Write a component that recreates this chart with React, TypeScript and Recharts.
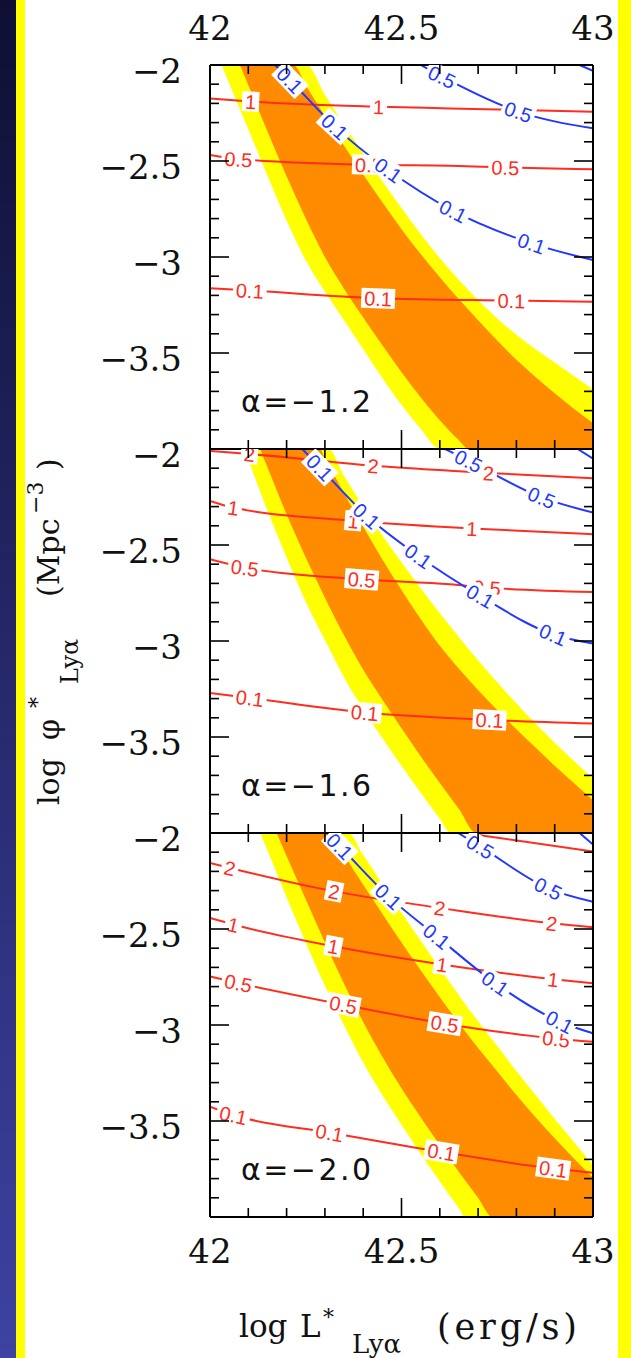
import React from 'react';
import { Area, ComposedChart, Line, Scatter, XAxis, YAxis } from 'recharts';

type Pt = [number, number];
type Band = [number, number, number];

const xTicks = [42, 42.1, 42.2, 42.3, 42.4, 42.5, 42.6, 42.7, 42.8, 42.9, 43];
const xMajor = [42, 42.5, 43];
const xTickLabels = ['42', '42.5', '43'];
const yTicks = [-4, -3.9, -3.8, -3.7, -3.6, -3.5, -3.4, -3.3, -3.2, -3.1, -3, -2.9, -2.8, -2.7, -2.6, -2.5, -2.4, -2.3, -2.2, -2.1, -2];
const yMajor = [-2, -2.5, -3, -3.5];
const yTickLabels = ['−2', '−2.5', '−3', '−3.5'];
const alphas = ['−1.2', '−1.6', '−2.0'];

// bands: [log L, lower edge, upper edge]
const a12Yellow: Band[] = [
  [42.03, -2.0, -2.0], [42.05, -2.095, -2.0], [42.075, -2.215, -2.0], [42.1, -2.335, -2.0], [42.15, -2.575, -2.0],
  [42.2, -2.81, -2.0], [42.252, -3.025, -2.0], [42.3, -3.18, -2.155], [42.35, -3.33, -2.31], [42.4, -3.48, -2.46],
  [42.45, -3.63, -2.605], [42.5, -3.77, -2.745], [42.55, -3.895, -2.88], [42.6, -4.0, -3.005], [42.65, -4.0, -3.12],
  [42.7, -4.0, -3.225], [42.75, -4.0, -3.32], [42.8, -4.0, -3.405], [42.85, -4.0, -3.48], [42.9, -4.0, -3.55],
  [42.95, -4.0, -3.62], [43.0, -4.0, -3.69],
];
const a12Orange: Band[] = [
  [42.078, -2.0, -2.0], [42.1, -2.105, -2.0], [42.15, -2.345, -2.0], [42.2, -2.58, -2.0], [42.218, -2.66, -2.0],
  [42.25, -2.8, -2.105], [42.3, -3.0, -2.265], [42.35, -3.165, -2.42], [42.4, -3.315, -2.57], [42.45, -3.46, -2.715],
  [42.5, -3.6, -2.855], [42.55, -3.73, -2.985], [42.6, -3.85, -3.105], [42.65, -3.955, -3.22], [42.675, -4.0, -3.275],
  [42.7, -4.0, -3.33], [42.75, -4.0, -3.435], [42.8, -4.0, -3.535], [42.85, -4.0, -3.625], [42.9, -4.0, -3.71],
  [42.95, -4.0, -3.79], [43.0, -4.0, -3.865],
];
const a16Yellow: Band[] = [
  [42.09, -2.0, -2.0], [42.1, -2.055, -2.0], [42.15, -2.32, -2.0], [42.2, -2.565, -2.0], [42.25, -2.795, -2.0],
  [42.309, -3.03, -2.0], [42.35, -3.19, -2.14], [42.4, -3.355, -2.3], [42.45, -3.505, -2.45], [42.5, -3.65, -2.59],
  [42.55, -3.79, -2.725], [42.6, -3.925, -2.855], [42.628, -4.0, -2.925], [42.65, -4.0, -2.98], [42.7, -4.0, -3.1],
  [42.75, -4.0, -3.215], [42.8, -4.0, -3.325], [42.85, -4.0, -3.43], [42.9, -4.0, -3.53], [42.95, -4.0, -3.625],
  [43.0, -4.0, -3.715],
];
const a16Orange: Band[] = [
  [42.131, -2.0, -2.0], [42.15, -2.095, -2.0], [42.2, -2.34, -2.0], [42.25, -2.565, -2.0], [42.287, -2.72, -2.0],
  [42.3, -2.775, -2.048], [42.35, -2.97, -2.23], [42.4, -3.15, -2.405], [42.45, -3.305, -2.575], [42.5, -3.455, -2.735],
  [42.55, -3.6, -2.885], [42.6, -3.74, -3.025], [42.65, -3.875, -3.145], [42.695, -4.0, -3.245], [42.75, -4.0, -3.36],
  [42.8, -4.0, -3.46], [42.85, -4.0, -3.555], [42.9, -4.0, -3.65], [42.95, -4.0, -3.74], [43.0, -4.0, -3.83],
];
const a20Yellow: Band[] = [
  [42.131, -2.0, -2.0], [42.15, -2.09, -2.0], [42.2, -2.335, -2.0], [42.25, -2.57, -2.0], [42.3, -2.795, -2.0],
  [42.361, -3.045, -2.0], [42.4, -3.195, -2.115], [42.45, -3.365, -2.265], [42.5, -3.52, -2.415], [42.55, -3.67, -2.56],
  [42.6, -3.815, -2.705], [42.65, -3.955, -2.845], [42.666, -4.0, -2.89], [42.7, -4.0, -2.98], [42.75, -4.0, -3.11],
  [42.8, -4.0, -3.24], [42.85, -4.0, -3.365], [42.9, -4.0, -3.49], [42.95, -4.0, -3.61], [43.0, -4.0, -3.73],
];
const a20Orange: Band[] = [
  [42.174, -2.0, -2.0], [42.2, -2.12, -2.0], [42.25, -2.345, -2.0], [42.3, -2.57, -2.0], [42.313, -2.627, -2.0],
  [42.35, -2.785, -2.115], [42.4, -2.985, -2.27], [42.45, -3.165, -2.42], [42.5, -3.33, -2.57], [42.55, -3.48, -2.715],
  [42.6, -3.625, -2.855], [42.65, -3.765, -2.99], [42.7, -3.9, -3.12], [42.737, -4.0, -3.21], [42.8, -4.0, -3.365],
  [42.85, -4.0, -3.48], [42.9, -4.0, -3.59], [42.95, -4.0, -3.695], [43.0, -4.0, -3.795],
];

// contours: [log L, log phi]
const a12Red1: Pt[] = [[42.0, -2.174], [42.106, -2.19], [42.44, -2.217], [42.627, -2.226], [43.0, -2.243]];
const a12Red05: Pt[] = [[42.0, -2.469], [42.074, -2.49], [42.415, -2.52], [42.627, -2.525], [42.771, -2.533], [43.0, -2.543]];
const a12Red01: Pt[] = [[42.0, -3.163], [42.104, -3.175], [42.439, -3.215], [42.787, -3.227], [43.0, -3.233]];
const a12Blue01: Pt[] = [[42.17, -2.0], [42.209, -2.078], [42.326, -2.321], [42.466, -2.547], [42.635, -2.76], [42.84, -2.929], [43.0, -3.016]];
const a12Blue05: Pt[] = [[42.55, -2.0], [42.606, -2.061], [42.805, -2.243], [43.0, -2.33]];
const a12Blue1: Pt[] = [[42.965, -2.0], [43.0, -2.03]];

const a16Red2: Pt[] = [[42.0, -2.01], [42.103, -2.026], [42.426, -2.087], [42.627, -2.113], [42.727, -2.125], [43.0, -2.153]];
const a16Red1: Pt[] = [[42.0, -2.27], [42.061, -2.305], [42.374, -2.374], [42.627, -2.408], [42.684, -2.414], [43.0, -2.444]];
const a16Red05: Pt[] = [[42.0, -2.574], [42.091, -2.618], [42.396, -2.679], [42.627, -2.705], [42.723, -2.722], [43.0, -2.745]];
const a16Red01: Pt[] = [[42.0, -3.271], [42.104, -3.297], [42.404, -3.373], [42.73, -3.411], [43.0, -3.43]];
const a16Blue01: Pt[] = [[42.241, -2.0], [42.287, -2.096], [42.409, -2.348], [42.544, -2.557], [42.706, -2.766], [42.896, -2.966], [43.0, -3.013]];
const a16Blue05: Pt[] = [[42.614, -2.0], [42.675, -2.061], [42.866, -2.252], [43.0, -2.331]];
const a16Blue1: Pt[] = [[42.96, -2.0], [43.0, -2.05]];

const a20Red5: Pt[] = [[42.7, -2.01], [43.0, -2.097]];
const a20Red2: Pt[] = [[42.0, -2.156], [42.052, -2.182], [42.324, -2.304], [42.6, -2.39], [42.892, -2.47], [43.0, -2.491]];
const a20Red1: Pt[] = [[42.0, -2.443], [42.061, -2.477], [42.322, -2.59], [42.606, -2.685], [42.896, -2.762], [43.0, -2.783]];
const a20Red05: Pt[] = [[42.0, -2.747], [42.074, -2.781], [42.348, -2.894], [42.613, -2.993], [42.904, -3.071], [43.0, -3.087]];
const a20Red01: Pt[] = [[42.0, -3.425], [42.061, -3.469], [42.312, -3.56], [42.604, -3.661], [42.896, -3.748], [43.0, -3.77]];
const a20Blue01: Pt[] = [[42.305, -2.0], [42.339, -2.069], [42.466, -2.33], [42.592, -2.538], [42.745, -2.783], [42.913, -2.983], [43.0, -3.043]];
const a20Blue05: Pt[] = [[42.648, -2.0], [42.706, -2.071], [42.883, -2.288], [43.0, -2.358]];
const a20Blue1: Pt[] = [[42.965, -2.0], [43.0, -2.06]];

type Contour = { level: string; pts: Pt[]; at: number[] };

const panels: { yellow: Band[]; orange: Band[]; red: Contour[]; blue: Contour[] }[] = [
  {
    yellow: a12Yellow,
    orange: a12Orange,
    red: [
      { level: '1', pts: a12Red1, at: [42.106, 42.44] },
      { level: '0.5', pts: a12Red05, at: [42.074, 42.415, 42.771] },
      { level: '0.1', pts: a12Red01, at: [42.104, 42.439, 42.787] },
    ],
    blue: [
      { level: '0.1', pts: a12Blue01, at: [42.209, 42.326, 42.466, 42.635, 42.84] },
      { level: '0.5', pts: a12Blue05, at: [42.606, 42.805] },
      { level: '1', pts: a12Blue1, at: [] },
    ],
  },
  {
    yellow: a16Yellow,
    orange: a16Orange,
    red: [
      { level: '2', pts: a16Red2, at: [42.103, 42.426, 42.727] },
      { level: '1', pts: a16Red1, at: [42.061, 42.374, 42.684] },
      { level: '0.5', pts: a16Red05, at: [42.091, 42.396, 42.723] },
      { level: '0.1', pts: a16Red01, at: [42.104, 42.404, 42.73] },
    ],
    blue: [
      { level: '0.1', pts: a16Blue01, at: [42.287, 42.409, 42.544, 42.706, 42.896] },
      { level: '0.5', pts: a16Blue05, at: [42.675, 42.866] },
      { level: '1', pts: a16Blue1, at: [] },
    ],
  },
  {
    yellow: a20Yellow,
    orange: a20Orange,
    red: [
      { level: '5', pts: a20Red5, at: [] },
      { level: '2', pts: a20Red2, at: [42.052, 42.324, 42.6, 42.892] },
      { level: '1', pts: a20Red1, at: [42.061, 42.322, 42.606, 42.896] },
      { level: '0.5', pts: a20Red05, at: [42.074, 42.348, 42.613, 42.904] },
      { level: '0.1', pts: a20Red01, at: [42.061, 42.312, 42.604, 42.896] },
    ],
    blue: [
      { level: '0.1', pts: a20Blue01, at: [42.339, 42.466, 42.592, 42.745, 42.913] },
      { level: '0.5', pts: a20Blue05, at: [42.706, 42.883] },
      { level: '1', pts: a20Blue1, at: [] },
    ],
  },
];

const RED = '#ff2d1e';
const BLUE = '#2238ff';
const YELLOW = '#ffff00';
const ORANGE = '#ff8c00';
const PLOT_W = 383;
const PLOT_H = 384;
const LABEL_FONT = 20;
const frame = { stroke: '#000', strokeWidth: 2 };

const isMajor = (v: number) => Math.abs(v * 2 - Math.round(v * 2)) < 1e-6;

function buildLabels(contours: Contour[]) {
  const rows: { L: number; v: number; text: string; angle: number }[] = [];
  contours.forEach((c) => {
    c.at.forEach((L) => {
      const i = c.pts.findIndex((p) => Math.abs(p[0] - L) < 1e-9);
      if (i < 0) return;
      const a = c.pts[Math.max(0, i - 1)];
      const b = c.pts[Math.min(c.pts.length - 1, i + 1)];
      const dx = (b[0] - a[0]) * PLOT_W;
      const dy = -(b[1] - a[1]) * (PLOT_H / 2);
      rows.push({ L, v: c.pts[i][1], text: c.level, angle: (Math.atan2(dy, dx) * 180) / Math.PI });
    });
  });
  return rows;
}

function labelWidth(t: string) {
  let w = 0;
  for (const ch of t) w += ch === '.' ? 0.278 : 0.556;
  return w * LABEL_FONT + 6;
}

function ContourLabel(props: any) {
  const { cx, cy, payload, color } = props;
  if (cx == null || cy == null || !payload) return <g />;
  const w = labelWidth(payload.text);
  return (
    <g transform={`translate(${cx},${cy}) rotate(${payload.angle})`}>
      <rect x={-w / 2} y={-10} width={w} height={20} fill="#fff" />
      <text x={0} y={7.5} textAnchor="middle" fontFamily="Liberation Sans" fontSize={LABEL_FONT} fill={color}>
        {payload.text}
      </text>
    </g>
  );
}

function XTick(props: any) {
  const { x, y, payload, dir, show } = props;
  const v = payload.value;
  const idx = xMajor.findIndex((m) => Math.abs(m - v) < 1e-6);
  return (
    <g>
      <line x1={x} x2={x} y1={y} y2={y + dir * (isMajor(v) ? 19 : 9)} stroke="#000" strokeWidth={1.6} />
      {show && idx >= 0 && (
        <text x={x} y={dir > 0 ? y - 25 : y + 46} textAnchor="middle" fontFamily="DejaVu Serif" fontSize={34} fill="#111">
          {xTickLabels[idx]}
        </text>
      )}
    </g>
  );
}

function YTick(props: any) {
  const { x, y, payload, dir, show } = props;
  const v = payload.value;
  const idx = yMajor.findIndex((m) => Math.abs(m - v) < 1e-6);
  return (
    <g>
      <line x1={x} x2={x + dir * (isMajor(v) ? 19 : 9)} y1={y} y2={y} stroke="#000" strokeWidth={1.6} />
      {show && idx >= 0 && (
        <text x={x - 28} y={y + 18} textAnchor="end" fontFamily="DejaVu Serif" fontSize={34} fill="#111">
          {yTickLabels[idx]}
        </text>
      )}
    </g>
  );
}

function Panel({ index }: { index: number }) {
  const p = panels[index];
  const redLabels = buildLabels(p.red);
  const blueLabels = buildLabels(p.blue);
  const band = (b: Band[]) => b.map((r) => ({ L: r[0], r: [r[1], r[2]] }));
  const line = (pts: Pt[]) => pts.map((q) => ({ L: q[0], v: q[1] }));
  return (
    <div style={{ position: 'absolute', left: 0, top: index * PLOT_H }}>
      <ComposedChart width={631} height={509} margin={{ top: 64, right: 37, bottom: 59, left: 209 }}>
        <Area data={band(p.yellow)} dataKey="r" type="monotone" fill={YELLOW} fillOpacity={1} stroke="none" dot={false} activeDot={false} isAnimationActive={false} />
        <Area data={band(p.orange)} dataKey="r" type="monotone" fill={ORANGE} fillOpacity={1} stroke="none" dot={false} activeDot={false} isAnimationActive={false} />
        {p.red.map((c, i) => (
          <Line key={'r' + i} data={line(c.pts)} dataKey="v" type="monotone" stroke={RED} strokeWidth={2} dot={false} activeDot={false} isAnimationActive={false} />
        ))}
        <Scatter data={redLabels} dataKey="v" isAnimationActive={false} shape={(s: any) => <ContourLabel {...s} color={RED} />} />
        {p.blue.map((c, i) => (
          <Line key={'b' + i} data={line(c.pts)} dataKey="v" type="monotone" stroke={BLUE} strokeWidth={2} dot={false} activeDot={false} isAnimationActive={false} />
        ))}
        <Scatter data={blueLabels} dataKey="v" isAnimationActive={false} shape={(s: any) => <ContourLabel {...s} color={BLUE} />} />
        <XAxis dataKey="L" type="number" domain={[42, 43]} ticks={xTicks} interval={0} allowDataOverflow orientation="bottom" height={1} tickSize={0} tickMargin={0} tickLine={false} axisLine={frame}
          tick={(t: any) => <XTick {...t} dir={-1} show={index === 2} />} />
        <XAxis xAxisId="top" dataKey="L" type="number" domain={[42, 43]} ticks={xTicks} interval={0} allowDataOverflow orientation="top" height={1} tickSize={0} tickMargin={0} tickLine={false} axisLine={frame}
          tick={(t: any) => <XTick {...t} dir={1} show={index === 0} />} />
        <YAxis type="number" domain={[-4, -2]} ticks={yTicks} interval={0} allowDataOverflow orientation="left" width={1} tickSize={0} tickMargin={0} tickLine={false} axisLine={frame}
          tick={(t: any) => <YTick {...t} dir={1} show />} />
        <YAxis yAxisId="right" type="number" domain={[-4, -2]} ticks={yTicks} interval={0} allowDataOverflow orientation="right" width={1} tickSize={0} tickMargin={0} tickLine={false} axisLine={frame}
          tick={(t: any) => <YTick {...t} dir={-1} show={false} />} />
      </ComposedChart>
    </div>
  );
}

export default function App() {
  return (
    <div style={{ position: 'absolute', left: 0, top: 0, width: 631, height: 1358, background: '#fff', overflow: 'hidden' }}>
      <div style={{ position: 'absolute', left: 0, top: 0, width: 16, height: 1358, background: 'linear-gradient(#0e0f33, #3e42a2)' }} />
      <div style={{ position: 'absolute', left: 16, top: 0, width: 9, height: 1358, background: YELLOW }} />
      <div style={{ position: 'absolute', left: 618, top: 0, width: 13, height: 1358, background: YELLOW }} />
      {panels.map((_, i) => (
        <Panel key={i} index={i} />
      ))}
      <svg width={631} height={1358} style={{ position: 'absolute', left: 0, top: 0, pointerEvents: 'none' }}>
        {alphas.map((a, i) => (
          <text key={a} x={241} y={412 + i * PLOT_H} fontFamily="DejaVu Sans" fontSize={30} fill="#111" textLength={130} lengthAdjust="spacing">
            {'α=' + a}
          </text>
        ))}
        <text transform="rotate(-90)" fontFamily="DejaVu Serif" fontSize={30} fill="#111">
          <tspan x={-805} y={59}>log</tspan>
          <tspan x={-740} y={59}>φ</tspan>
          <tspan x={-708} y={45} fontSize={22}>*</tspan>
          <tspan x={-684} y={78} fontSize={24}>Lyα</tspan>
          <tspan x={-597} y={59}>(Mpc</tspan>
          <tspan x={-514} y={43} fontSize={22}>−3</tspan>
          <tspan x={-470} y={59}>)</tspan>
        </text>
        <text fontFamily="DejaVu Serif" fontSize={31} fill="#111">
          <tspan x={239} y={1337}>log</tspan>
          <tspan x={300} y={1337}>L</tspan>
          <tspan x={323} y={1325} fontSize={22}>*</tspan>
          <tspan x={352} y={1353} fontSize={26}>Lyα</tspan>
          <tspan x={437} y={1339} fontSize={35} textLength={140} lengthAdjust="spacing">(erg/s)</tspan>
        </text>
      </svg>
    </div>
  );
}
